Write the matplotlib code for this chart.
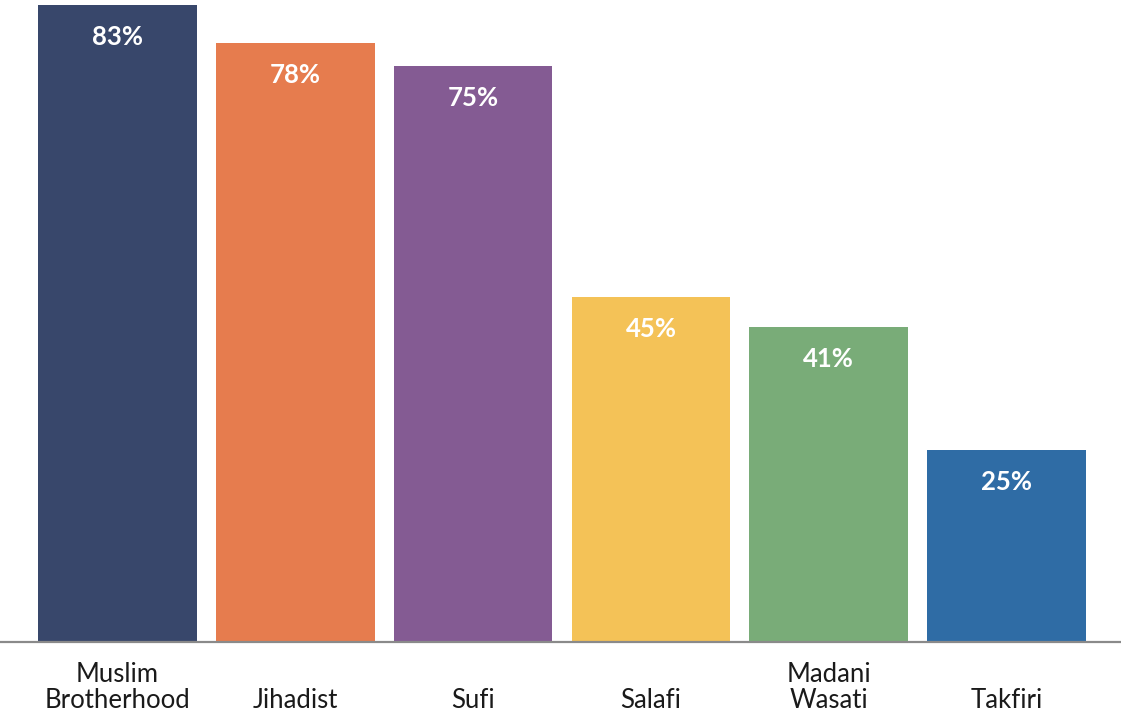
import matplotlib.pyplot as plt

categories = ['Muslim\nBrotherhood', '\nJihadist', '\nSufi', '\nSalafi', 'Madani\nWasati', '\nTakfiri']
values = [83, 78, 75, 45, 41, 25]
colors = ['#38476b', '#e67c4e', '#845b93', '#f4c257', '#79ac78', '#2f6ca5']

plt.rcParams['font.family'] = ['Lato', 'DejaVu Sans']

fig = plt.figure(figsize=(11.21, 7.16), dpi=100)
ax = fig.add_axes([0, 74 / 716, 1, 642 / 716])

x = range(len(values))
bars = ax.bar(x, values, width=0.893, color=colors)

for i, v in enumerate(values):
    ax.annotate(f'{v}%', (i, v), xytext=(0, -23), textcoords='offset points',
                ha='center', va='center', color='white', fontsize=18.5, fontweight='bold')

ax.set_xlim(-0.66, 5.643)
ax.set_ylim(0, 83.65)
ax.set_xticks(list(x))
ax.set_xticklabels(categories, fontsize=18.5, color='#1a1a1a', linespacing=1.05)
ax.tick_params(axis='x', length=0, pad=14.5)
ax.set_yticks([])
for s in ['top', 'right', 'left']:
    ax.spines[s].set_visible(False)
ax.spines['bottom'].set_color('#8a8a8a')
ax.spines['bottom'].set_linewidth(1.6)

fig.savefig('out.png', dpi=100)
